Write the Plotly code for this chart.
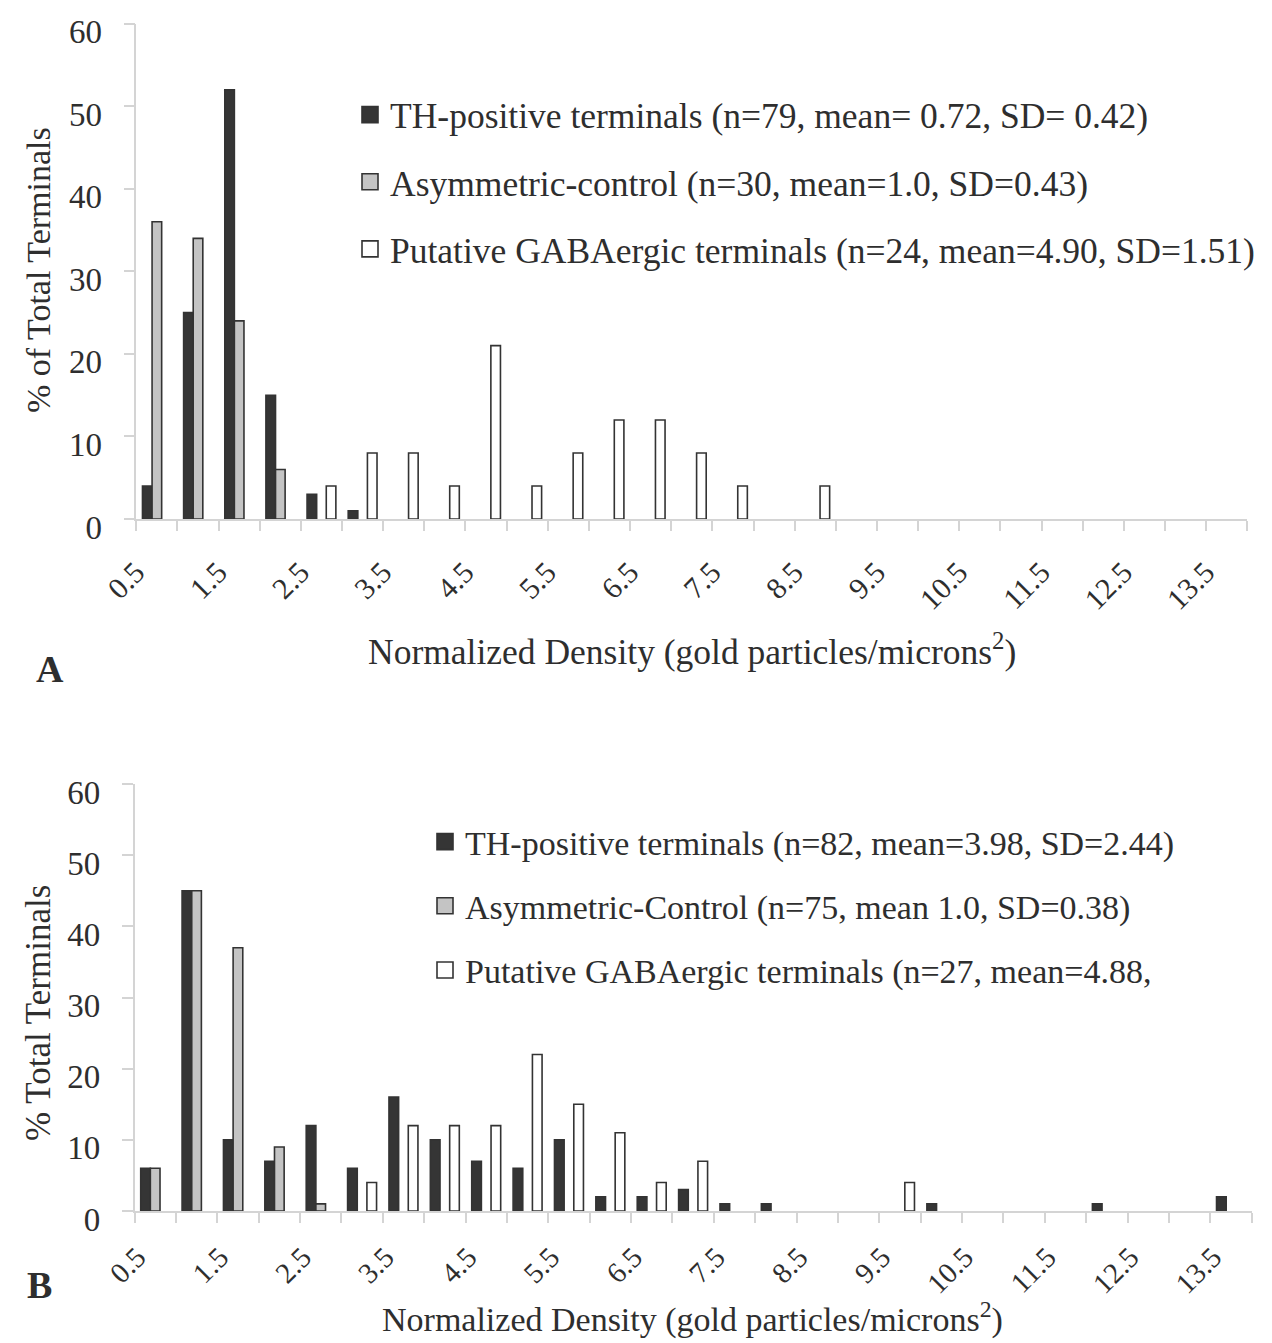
import plotly.graph_objects as go

# ---------------- data ----------------
density = [0.5, 1.0, 1.5, 2.0, 2.5, 3.0, 3.5, 4.0, 4.5, 5.0, 5.5, 6.0, 6.5, 7.0,
           7.5, 8.0, 8.5, 9.0, 9.5, 10.0, 10.5, 11.0, 11.5, 12.0, 12.5, 13.0, 13.5]
tick_values = [0.5, 1.5, 2.5, 3.5, 4.5, 5.5, 6.5, 7.5, 8.5, 9.5, 10.5, 11.5, 12.5, 13.5]
tick_labels = ["0.5", "1.5", "2.5", "3.5", "4.5", "5.5", "6.5", "7.5", "8.5", "9.5",
               "10.5", "11.5", "12.5", "13.5"]
y_ticks = [0, 10, 20, 30, 40, 50, 60]

# Panel A
th_a = [4, 25, 52, 15, 3, 1, None, None, None, None, None, None, None, None,
        None, None, None, None, None, None, None, None, None, None, None, None, None]
asym_a = [36, 34, 24, 6, None, None, None, None, None, None, None, None, None, None,
          None, None, None, None, None, None, None, None, None, None, None, None, None]
gaba_a = [None, None, None, None, 4, 8, 8, 4, 21, 4, 8, 12, 12, 8,
          4, None, 4, None, None, None, None, None, None, None, None, None, None]

# Panel B
th_b = [6, 45, 10, 7, 12, 6, 16, 10, 7, 6, 10, 2, 2, 3,
        1, 1, None, None, None, 1, None, None, None, 1, None, None, 2]
asym_b = [6, 45, 37, 9, 1, None, None, None, None, None, None, None, None, None,
          None, None, None, None, None, None, None, None, None, None, None, None, None]
gaba_b = [None, None, None, None, None, 4, 12, 12, 12, 22, 15, 11, 4, 7,
          None, None, None, None, 4, None, None, None, None, None, None, None, None]

names_a = ["TH-positive terminals (n=79, mean= 0.72, SD= 0.42)",
           "Asymmetric-control (n=30, mean=1.0, SD=0.43)",
           "Putative GABAergic terminals (n=24, mean=4.90, SD=1.51)"]
names_b = ["TH-positive terminals (n=82, mean=3.98, SD=2.44)",
           "Asymmetric-Control (n=75, mean 1.0, SD=0.38)",
           "Putative GABAergic terminals (n=27, mean=4.88,"]

# ---------------- style ----------------
W, H = 1272, 1343
FONT = "Liberation Serif, Times New Roman, serif"
TXT = "#2e2e2e"
EDGE = "#333333"
AXC = "#d4d4d4"
fills = ["#353535", "#c4c4c4", "#ffffff"]

step = density[1] - density[0]
boundaries = [d - step / 2 for d in density] + [density[-1] + step / 2]

fig = go.Figure()


def add_panel(series, names, xa, ya, leg, grp):
    for vals, name, col, i in zip(series, names, fills, range(3)):
        fig.add_trace(go.Bar(x=density, y=vals, name=name, xaxis=xa, yaxis=ya,
                             marker=dict(color=col, line=dict(color=EDGE, width=1.6)),
                             showlegend=False, legendgroup="%s%d" % (grp, i)))
        # legend entry (square swatch, larger than the default bar swatch)
        fig.add_trace(go.Scatter(x=[None], y=[None], mode="markers", name=name,
                                 xaxis=xa, yaxis=ya, legend=leg,
                                 legendgroup="%s%d" % (grp, i), hoverinfo="skip",
                                 marker=dict(symbol="square", size=16, color=col,
                                             line=dict(color=EDGE, width=1.6))))


add_panel([th_a, asym_a, gaba_a], names_a, "x", "y", "legend", "a")
add_panel([th_b, asym_b, gaba_b], names_b, "x2", "y2", "legend2", "b")


def px_x(v):
    return v / W


def px_y(v):
    return 1 - v / H


def xaxis_cfg(left, right, anchor, fsize, standoff, shift):
    return dict(domain=[px_x(left), px_x(right)], anchor=anchor, type="linear",
                range=[boundaries[0], boundaries[-1]], automargin=False,
                tickmode="array", tickvals=tick_values, ticktext=tick_labels,
                tickangle=-45, ticks="", showline=True, linecolor=AXC, linewidth=1.5,
                showgrid=False, zeroline=False, ticklabeloverflow="allow",
                minor=dict(tickmode="array", tickvals=boundaries, ticks="outside",
                           ticklen=10, tickcolor=AXC, tickwidth=1.5, showgrid=False),
                tickfont=dict(family=FONT, size=fsize, color=TXT),
                ticklabelstandoff=standoff, ticklabelshift=shift)


def yaxis_cfg(top, bottom, anchor):
    return dict(domain=[px_y(bottom), px_y(top)], anchor=anchor, range=[0, 60],
                automargin=False, tickmode="array", tickvals=y_ticks,
                ticks="outside", ticklen=11, ticklabeloverflow="allow",
                tickcolor=AXC, tickwidth=1.5, showline=True, linecolor=AXC, linewidth=1.5,
                showgrid=False, zeroline=False,
                tickfont=dict(family=FONT, size=33, color=TXT),
                ticklabelstandoff=15, ticklabelshift=8)


legend_common = dict(xanchor="left", yanchor="top", bgcolor="rgba(0,0,0,0)",
                     traceorder="grouped", itemclick=False, itemsizing="trace")

fig.update_layout(
    template="none",
    width=W, height=H, margin=dict(l=0, r=0, t=0, b=0, autoexpand=False),
    paper_bgcolor="white", plot_bgcolor="white",
    barmode="group", bargap=0.30, bargroupgap=0,
    font=dict(family=FONT, color=TXT),
    xaxis=xaxis_cfg(128.3, 1239.3, "y", 30, 22, -21),
    yaxis=yaxis_cfg(15.7, 511, "x"),
    xaxis2=xaxis_cfg(126.5, 1243.7, "y2", 29, 16, -18),
    yaxis2=yaxis_cfg(776, 1203, "x2"),
    legend=dict(x=px_x(342), y=px_y(77), font=dict(family=FONT, size=35.5, color=TXT),
                tracegroupgap=18, **legend_common),
    legend2=dict(x=px_x(417), y=px_y(805), font=dict(family=FONT, size=34, color=TXT),
                 tracegroupgap=17, **legend_common),
    showlegend=True,
)

annots = [
    dict(text="% of Total Terminals", x=px_x(30), y=px_y(262), textangle=-90, size=34, anchor="middle"),
    dict(text="Normalized Density (gold particles/microns<sup>2</sup>)", x=px_x(684), y=px_y(641), textangle=0, size=35.5, anchor="middle"),
    dict(text="<b>A</b>", x=px_x(42), y=px_y(661), textangle=0, size=38, anchor="middle"),
    dict(text="% Total Terminals", x=px_x(30), y=px_y(1005), textangle=-90, size=35, anchor="middle"),
    dict(text="Normalized Density (gold particles/microns<sup>2</sup>)", x=px_x(684), y=px_y(1333), textangle=0, size=34, anchor="bottom"),
    dict(text="<b>B</b>", x=px_x(31), y=px_y(1277), textangle=0, size=38, anchor="middle"),
]
for a in annots:
    fig.add_annotation(text=a["text"], x=a["x"], y=a["y"], xref="paper", yref="paper",
                       xanchor="center", yanchor=a["anchor"], showarrow=False,
                       textangle=a["textangle"], font=dict(family=FONT, size=a["size"], color=TXT))

fig.write_html("out.html")
